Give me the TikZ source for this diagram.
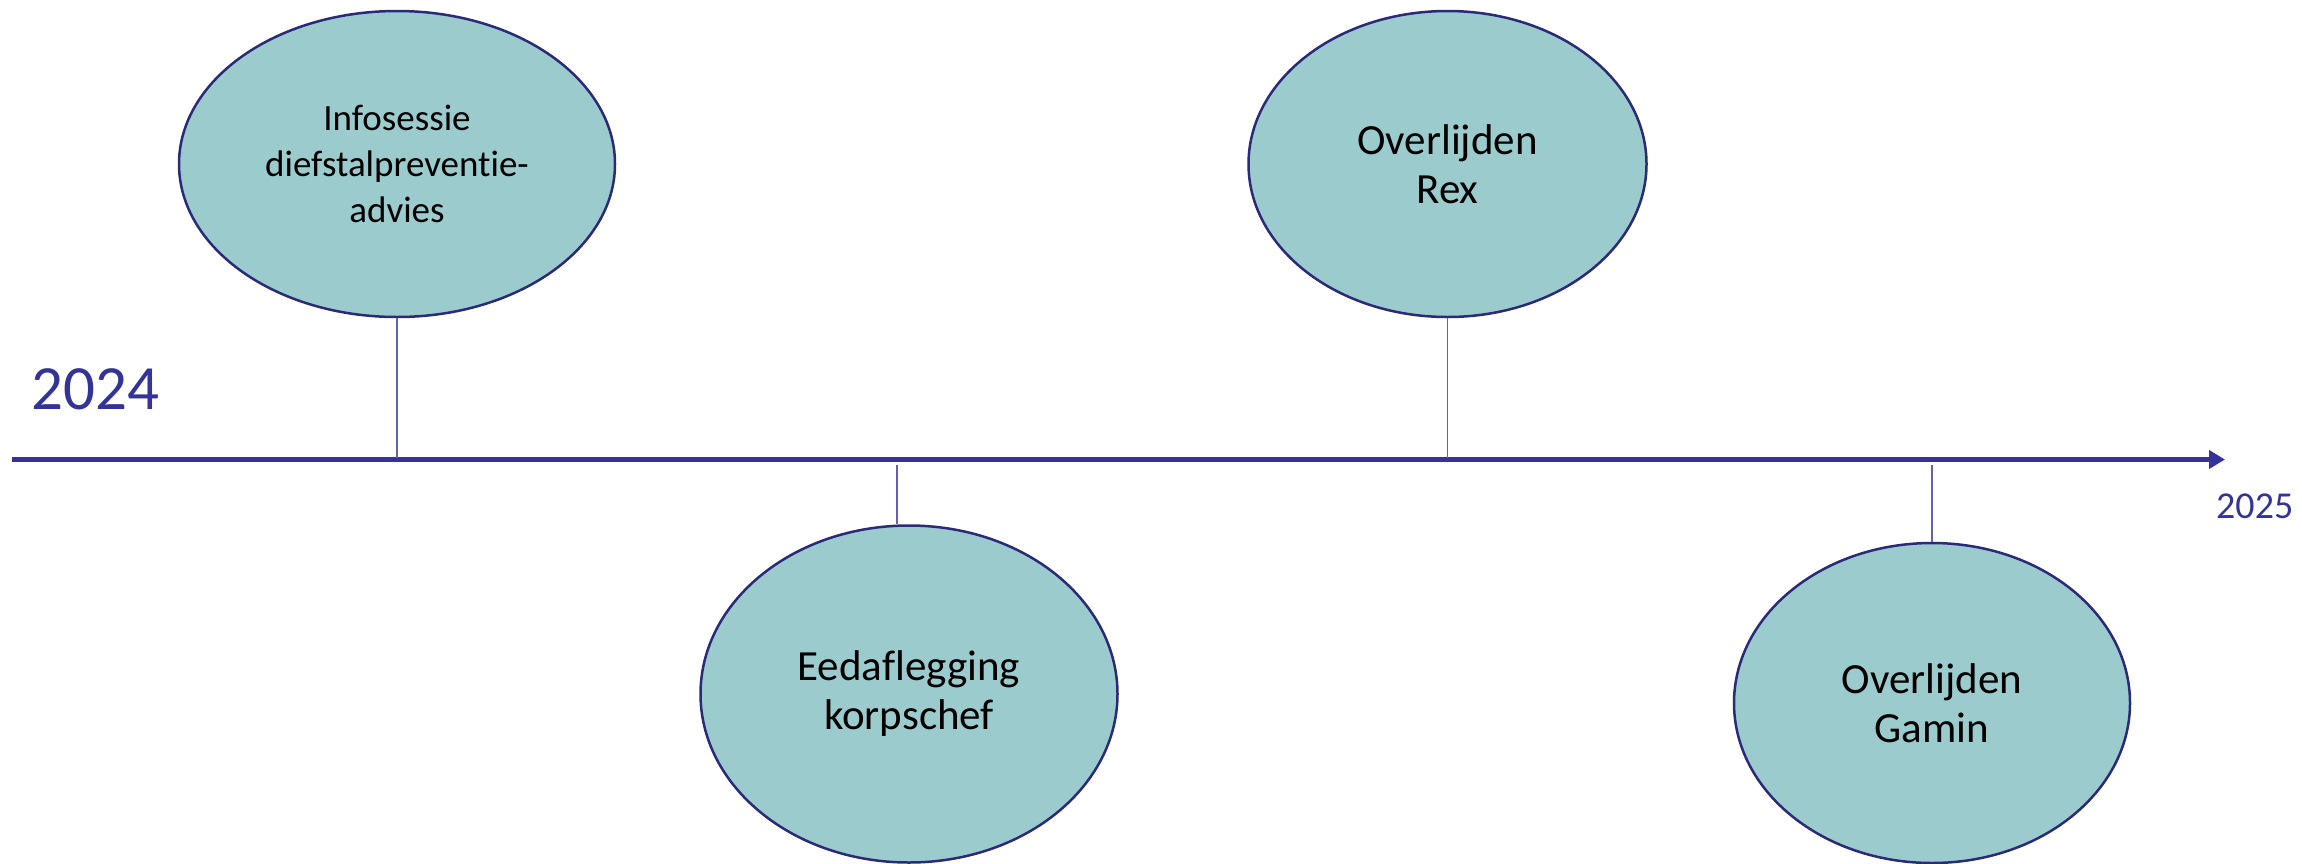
\documentclass[tikz,border=0pt]{standalone}
\usepackage{fontspec}
\setmainfont{Carlito}[Ligatures={NoCommon}]
\usetikzlibrary{shapes.geometric,arrows.meta}
\definecolor{evfill}{HTML}{9BCBCD}
\definecolor{evline}{HTML}{2B2A78}
\definecolor{axisblue}{HTML}{333399}
\definecolor{stemblue}{HTML}{6262AE}
\tikzset{
  event/.style={ellipse, draw=evline, fill=evfill, line width=2.5pt, inner sep=0pt, align=center, text=black},
  evtext/.style={font=\fontsize{43}{49}\selectfont},
  evsmall/.style={font=\fontsize{37}{46}\selectfont},
  stem/.style={draw=stemblue, line width=1.4pt},
  axisline/.style={draw=axisblue, line width=4.5pt, -{Triangle[length=16pt,width=18pt]}},
  yearbig/.style={text=axisblue, font=\fontsize{63}{70}\selectfont, inner sep=0pt},
  yearsmall/.style={text=axisblue, font=\fontsize{38}{44}\selectfont, inner sep=0pt}
}
\begin{document}
\begin{tikzpicture}[x=1pt,y=-1pt]
\useasboundingbox (0,0) rectangle (2302,863);
% axis
\coordinate (axstart) at (12,459.5);
\coordinate (axend) at (2225,459.5);
\draw[axisline] (axstart) -- (axend);
% years
\node[yearbig, anchor=west] (y2024) at (31,389) {2024};
\node[yearsmall, anchor=west] (y2025) at (2216,506) {2025};
% events
\node[event, evsmall, minimum width=436pt, minimum height=306pt] (e1) at (397,164) {Infosessie\\diefstalpreventie-\\advies};
\node[event, evtext, minimum width=417pt, minimum height=337pt] (e2) at (909,694) {Eedaflegging\\korpschef};
\node[event, evtext, minimum width=398pt, minimum height=306pt] (e3) at (1447.5,164) {Overlijden\\Rex};
\node[event, evtext, minimum width=396pt, minimum height=320pt] (e4) at (1932,703) {Overlijden\\Gamin};
% stems
\coordinate (a1) at (397,458);
\coordinate (a2) at (897,465);
\coordinate (a3) at (1447.5,458);
\coordinate (a4) at (1932,465);
\draw[stem] (e1.south) -- (a1);
\draw[stem] (a2) -- (a2 |- e2.north);
\draw[stem] (e3.south) -- (a3);
\draw[stem] (a4) -- (e4.north);
\end{tikzpicture}
\end{document}
